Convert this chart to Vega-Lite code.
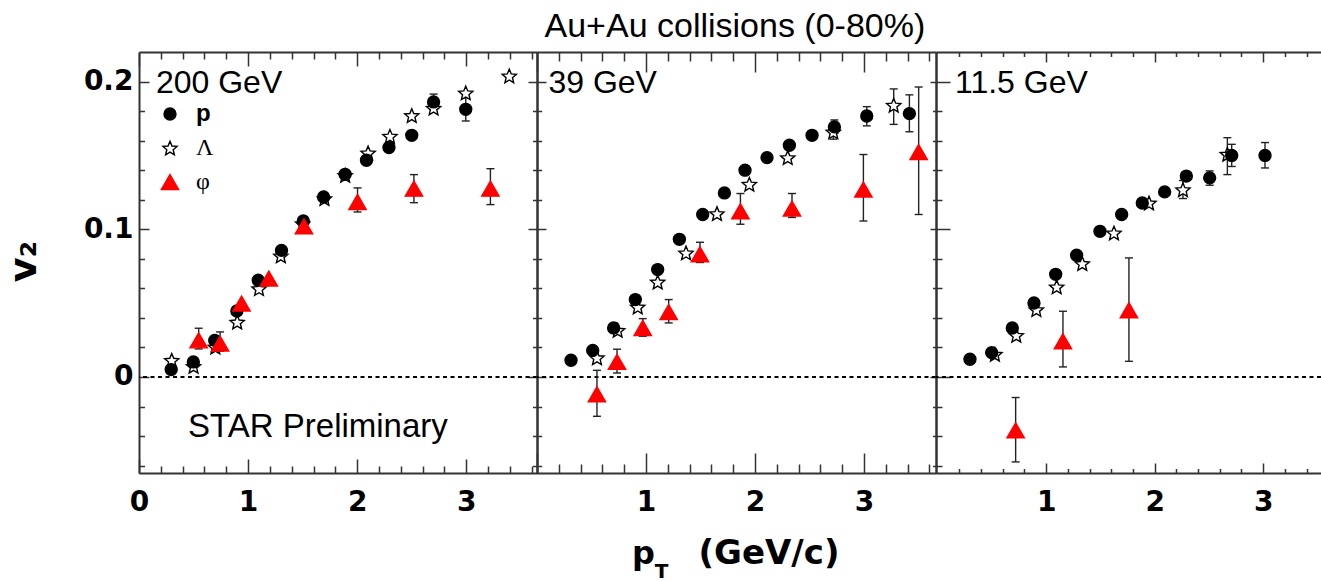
{
  "$schema": "https://vega.github.io/schema/vega-lite/v6.json",
  "background": "white",
  "padding": {"left": 5, "top": 9, "right": 0, "bottom": 0},
  "autosize": {"type": "pad"},
  "bounds": "flush",
  "spacing": 0,
  "config": {
    "view": {"stroke": null},
    "axis": {"domainColor": "#333333", "domainWidth": 2, "tickColor": "#333333", "tickWidth": 1.5, "grid": false, "labelColor": "#000000", "titleColor": "#000000", "labelFlush": false, "labelOverlap": false, "labelBound": false}
  },
  "datasets": {
    "labels": [
      {"energy": "200 GeV", "kind": "energy", "label": "200 GeV"},
      {"energy": "39 GeV", "kind": "energy", "label": "39 GeV"},
      {"energy": "11.5 GeV", "kind": "energy", "label": "11.5 GeV"},
      {"energy": "200 GeV", "kind": "note", "label": "STAR Preliminary"}
    ],
    "v2": [
      {"energy": "200 GeV", "particle": "Λ", "pt": 0.30, "v2": 0.0113},
      {"energy": "200 GeV", "particle": "Λ", "pt": 0.50, "v2": 0.0072},
      {"energy": "200 GeV", "particle": "Λ", "pt": 0.70, "v2": 0.0203},
      {"energy": "200 GeV", "particle": "Λ", "pt": 0.90, "v2": 0.0372},
      {"energy": "200 GeV", "particle": "Λ", "pt": 1.10, "v2": 0.0598},
      {"energy": "200 GeV", "particle": "Λ", "pt": 1.30, "v2": 0.082},
      {"energy": "200 GeV", "particle": "Λ", "pt": 1.50, "v2": 0.1038},
      {"energy": "200 GeV", "particle": "Λ", "pt": 1.70, "v2": 0.1208},
      {"energy": "200 GeV", "particle": "Λ", "pt": 1.89, "v2": 0.1365},
      {"energy": "200 GeV", "particle": "Λ", "pt": 2.10, "v2": 0.1517},
      {"energy": "200 GeV", "particle": "Λ", "pt": 2.30, "v2": 0.163},
      {"energy": "200 GeV", "particle": "Λ", "pt": 2.50, "v2": 0.177},
      {"energy": "200 GeV", "particle": "Λ", "pt": 2.70, "v2": 0.182},
      {"energy": "200 GeV", "particle": "Λ", "pt": 2.995, "v2": 0.1923},
      {"energy": "200 GeV", "particle": "Λ", "pt": 3.394, "v2": 0.2038},
      {"energy": "200 GeV", "particle": "p", "pt": 0.295, "v2": 0.005},
      {"energy": "200 GeV", "particle": "p", "pt": 0.498, "v2": 0.0102},
      {"energy": "200 GeV", "particle": "p", "pt": 0.694, "v2": 0.0248},
      {"energy": "200 GeV", "particle": "p", "pt": 0.897, "v2": 0.0447},
      {"energy": "200 GeV", "particle": "p", "pt": 1.093, "v2": 0.0655},
      {"energy": "200 GeV", "particle": "p", "pt": 1.306, "v2": 0.0857},
      {"energy": "200 GeV", "particle": "p", "pt": 1.506, "v2": 0.1056},
      {"energy": "200 GeV", "particle": "p", "pt": 1.692, "v2": 0.1219},
      {"energy": "200 GeV", "particle": "p", "pt": 1.889, "v2": 0.1372},
      {"energy": "200 GeV", "particle": "p", "pt": 2.085, "v2": 0.1467},
      {"energy": "200 GeV", "particle": "p", "pt": 2.291, "v2": 0.1553},
      {"energy": "200 GeV", "particle": "p", "pt": 2.50, "v2": 0.1636},
      {"energy": "200 GeV", "particle": "p", "pt": 2.70, "v2": 0.1862, "lo": 0.181, "hi": 0.1915},
      {"energy": "200 GeV", "particle": "p", "pt": 2.995, "v2": 0.1812, "lo": 0.1733, "hi": 0.189},
      {"energy": "200 GeV", "particle": "φ", "pt": 0.547, "v2": 0.0248, "lo": 0.019, "hi": 0.033},
      {"energy": "200 GeV", "particle": "φ", "pt": 0.743, "v2": 0.0226, "lo": 0.0175, "hi": 0.0305},
      {"energy": "200 GeV", "particle": "φ", "pt": 0.94, "v2": 0.0497},
      {"energy": "200 GeV", "particle": "φ", "pt": 1.19, "v2": 0.0666},
      {"energy": "200 GeV", "particle": "φ", "pt": 1.512, "v2": 0.102},
      {"energy": "200 GeV", "particle": "φ", "pt": 2.003, "v2": 0.1185, "lo": 0.1117, "hi": 0.128},
      {"energy": "200 GeV", "particle": "φ", "pt": 2.52, "v2": 0.1275, "lo": 0.118, "hi": 0.137},
      {"energy": "200 GeV", "particle": "φ", "pt": 3.221, "v2": 0.1275, "lo": 0.1167, "hi": 0.141},
      {"energy": "39 GeV", "particle": "Λ", "pt": 0.55, "v2": 0.013},
      {"energy": "39 GeV", "particle": "Λ", "pt": 0.74, "v2": 0.0316},
      {"energy": "39 GeV", "particle": "Λ", "pt": 0.924, "v2": 0.0474},
      {"energy": "39 GeV", "particle": "Λ", "pt": 1.107, "v2": 0.0643},
      {"energy": "39 GeV", "particle": "Λ", "pt": 1.367, "v2": 0.084},
      {"energy": "39 GeV", "particle": "Λ", "pt": 1.651, "v2": 0.1106},
      {"energy": "39 GeV", "particle": "Λ", "pt": 1.948, "v2": 0.1305},
      {"energy": "39 GeV", "particle": "Λ", "pt": 2.30, "v2": 0.1485},
      {"energy": "39 GeV", "particle": "Λ", "pt": 2.718, "v2": 0.1659, "lo": 0.161, "hi": 0.171},
      {"energy": "39 GeV", "particle": "Λ", "pt": 3.272, "v2": 0.184, "lo": 0.171, "hi": 0.195},
      {"energy": "39 GeV", "particle": "p", "pt": 0.312, "v2": 0.0113},
      {"energy": "39 GeV", "particle": "p", "pt": 0.511, "v2": 0.018},
      {"energy": "39 GeV", "particle": "p", "pt": 0.703, "v2": 0.0332},
      {"energy": "39 GeV", "particle": "p", "pt": 0.902, "v2": 0.0524},
      {"energy": "39 GeV", "particle": "p", "pt": 1.107, "v2": 0.0727},
      {"energy": "39 GeV", "particle": "p", "pt": 1.306, "v2": 0.0932},
      {"energy": "39 GeV", "particle": "p", "pt": 1.52, "v2": 0.110},
      {"energy": "39 GeV", "particle": "p", "pt": 1.719, "v2": 0.1246},
      {"energy": "39 GeV", "particle": "p", "pt": 1.908, "v2": 0.140},
      {"energy": "39 GeV", "particle": "p", "pt": 2.11, "v2": 0.1485},
      {"energy": "39 GeV", "particle": "p", "pt": 2.315, "v2": 0.1569},
      {"energy": "39 GeV", "particle": "p", "pt": 2.523, "v2": 0.1636},
      {"energy": "39 GeV", "particle": "p", "pt": 2.728, "v2": 0.1693, "lo": 0.165, "hi": 0.174},
      {"energy": "39 GeV", "particle": "p", "pt": 3.025, "v2": 0.1767, "lo": 0.170, "hi": 0.183},
      {"energy": "39 GeV", "particle": "p", "pt": 3.416, "v2": 0.1783, "lo": 0.166, "hi": 0.191},
      {"energy": "39 GeV", "particle": "φ", "pt": 0.55, "v2": -0.0117, "lo": -0.0266, "hi": 0.0045},
      {"energy": "39 GeV", "particle": "φ", "pt": 0.734, "v2": 0.0102, "lo": 0.0027, "hi": 0.0188},
      {"energy": "39 GeV", "particle": "φ", "pt": 0.97, "v2": 0.0332, "lo": 0.0276, "hi": 0.0395},
      {"energy": "39 GeV", "particle": "φ", "pt": 1.208, "v2": 0.044, "lo": 0.0366, "hi": 0.0524},
      {"energy": "39 GeV", "particle": "φ", "pt": 1.495, "v2": 0.0831, "lo": 0.0775, "hi": 0.0912},
      {"energy": "39 GeV", "particle": "φ", "pt": 1.866, "v2": 0.1122, "lo": 0.1034, "hi": 0.1242},
      {"energy": "39 GeV", "particle": "φ", "pt": 2.339, "v2": 0.114, "lo": 0.108, "hi": 0.1242},
      {"energy": "39 GeV", "particle": "φ", "pt": 2.994, "v2": 0.1269, "lo": 0.1056, "hi": 0.1506},
      {"energy": "39 GeV", "particle": "φ", "pt": 3.501, "v2": 0.1523, "lo": 0.110, "hi": 0.1963},
      {"energy": "11.5 GeV", "particle": "Λ", "pt": 0.528, "v2": 0.0154},
      {"energy": "11.5 GeV", "particle": "Λ", "pt": 0.725, "v2": 0.0282},
      {"energy": "11.5 GeV", "particle": "Λ", "pt": 0.91, "v2": 0.0456},
      {"energy": "11.5 GeV", "particle": "Λ", "pt": 1.097, "v2": 0.061},
      {"energy": "11.5 GeV", "particle": "Λ", "pt": 1.333, "v2": 0.0768},
      {"energy": "11.5 GeV", "particle": "Λ", "pt": 1.625, "v2": 0.0975},
      {"energy": "11.5 GeV", "particle": "Λ", "pt": 1.948, "v2": 0.1178},
      {"energy": "11.5 GeV", "particle": "Λ", "pt": 2.261, "v2": 0.1268, "lo": 0.1208, "hi": 0.133},
      {"energy": "11.5 GeV", "particle": "Λ", "pt": 2.67, "v2": 0.1508, "lo": 0.137, "hi": 0.162},
      {"energy": "11.5 GeV", "particle": "p", "pt": 0.298, "v2": 0.012},
      {"energy": "11.5 GeV", "particle": "p", "pt": 0.498, "v2": 0.0165},
      {"energy": "11.5 GeV", "particle": "p", "pt": 0.688, "v2": 0.0332},
      {"energy": "11.5 GeV", "particle": "p", "pt": 0.888, "v2": 0.0501},
      {"energy": "11.5 GeV", "particle": "p", "pt": 1.088, "v2": 0.0695},
      {"energy": "11.5 GeV", "particle": "p", "pt": 1.281, "v2": 0.0824},
      {"energy": "11.5 GeV", "particle": "p", "pt": 1.496, "v2": 0.0986},
      {"energy": "11.5 GeV", "particle": "p", "pt": 1.696, "v2": 0.110},
      {"energy": "11.5 GeV", "particle": "p", "pt": 1.886, "v2": 0.1178},
      {"energy": "11.5 GeV", "particle": "p", "pt": 2.092, "v2": 0.1253},
      {"energy": "11.5 GeV", "particle": "p", "pt": 2.292, "v2": 0.136},
      {"energy": "11.5 GeV", "particle": "p", "pt": 2.507, "v2": 0.1348, "lo": 0.1298, "hi": 0.1395},
      {"energy": "11.5 GeV", "particle": "p", "pt": 2.71, "v2": 0.150, "lo": 0.1425, "hi": 0.1575},
      {"energy": "11.5 GeV", "particle": "p", "pt": 3.017, "v2": 0.150, "lo": 0.1415, "hi": 0.1587},
      {"energy": "11.5 GeV", "particle": "φ", "pt": 0.719, "v2": -0.0361, "lo": -0.0575, "hi": -0.0139},
      {"energy": "11.5 GeV", "particle": "φ", "pt": 1.155, "v2": 0.0242, "lo": 0.0068, "hi": 0.0445},
      {"energy": "11.5 GeV", "particle": "φ", "pt": 1.763, "v2": 0.0452, "lo": 0.0106, "hi": 0.0806}
    ]
  },
  "resolve": {
    "scale": {"x": "independent", "y": "independent", "shape": "independent", "fill": "independent", "stroke": "independent", "size": "independent"},
    "legend": {"shape": "independent", "fill": "independent", "stroke": "independent", "size": "independent"}
  },
  "hconcat": [
    {
      "width": 398,
      "height": 421,
      "data": {"name": "v2"},
      "resolve": {"axis": {"x": "independent", "y": "independent"}},
      "layer": [
        {
          "data": {"name": "labels"},
          "transform": [{"filter": "datum.energy === '200 GeV' && datum.kind === 'energy'"}],
          "mark": {"type": "rule", "strokeDash": [4, 3.5], "strokeWidth": 2, "color": "#000000"},
          "encoding": {
            "y": {"datum": 0, "type": "quantitative", "scale": {"domain": [-0.065, 0.22], "nice": false, "zero": false},
              "axis": {"orient": "left", "values": [0, 0.1, 0.2], "format": "~g", "ticks": false, "domain": false, "labels": true,
                "labelFont": "DejaVu Sans", "labelFontWeight": "bold", "labelFontSize": 28, "labelPadding": 6, "labelBaseline": "middle",
                "title": "v₂", "titleFont": "DejaVu Sans", "titleFontWeight": "bold", "titleFontSize": 38, "titleAngle": 270,
                "titleAlign": "center", "titleBaseline": "alphabetic", "titleX": -103.6, "titleY": 209}}
          }
        },
        {
          "transform": [{"filter": "datum.energy === '200 GeV' && isValid(datum.lo)"}],
          "mark": {"type": "rule", "color": "#222222", "strokeWidth": 1.4},
          "encoding": {
            "x": {"field": "pt", "type": "quantitative", "scale": {"domain": [0, 3.648], "nice": false, "zero": false},
              "axis": {"orient": "bottom", "values": [0,0.2,0.4,0.6,0.8,1,1.2,1.4,1.6,1.8,2,2.2,2.4,2.6,2.8,3,3.2,3.4,3.6], "labels": false, "domain": true, "ticks": true,
                "tickSize": {"condition": {"test": "abs(datum.value-round(datum.value))<0.001", "value": -14}, "value": -7}, "title": null}},
            "y": {"field": "lo", "type": "quantitative", "scale": {"domain": [-0.065, 0.22], "nice": false, "zero": false},
              "axis": {"orient": "left", "values": [-0.06,-0.04,-0.02,0,0.02,0.04,0.06,0.08,0.1,0.12,0.14,0.16,0.18,0.2], "labels": false, "domain": true, "ticks": true,
                "tickSize": {"condition": {"test": "abs(datum.value*10-round(datum.value*10))<0.001", "value": -10}, "value": -5.5}, "title": null}},
            "y2": {"field": "hi"}
          }
        },
        {
          "transform": [{"filter": "datum.energy === '200 GeV' && isValid(datum.lo)"}],
          "mark": {"type": "tick", "orient": "horizontal", "size": 8, "thickness": 1.4, "color": "#222222", "opacity": 1},
          "encoding": {
            "x": {"field": "pt", "type": "quantitative", "scale": {"domain": [0, 3.648], "nice": false, "zero": false},
              "axis": {"orient": "top", "values": [0,0.2,0.4,0.6,0.8,1,1.2,1.4,1.6,1.8,2,2.2,2.4,2.6,2.8,3,3.2,3.4,3.6], "labels": false, "domain": true, "ticks": true,
                "tickSize": {"condition": {"test": "abs(datum.value-round(datum.value))<0.001", "value": -14}, "value": -7}, "title": null}},
            "y": {"field": "lo", "type": "quantitative", "scale": {"domain": [-0.065, 0.22], "nice": false, "zero": false},
              "axis": {"orient": "right", "values": [-0.06,-0.04,-0.02,0,0.02,0.04,0.06,0.08,0.1,0.12,0.14,0.16,0.18,0.2], "labels": false, "domain": true, "ticks": true,
                "tickSize": {"condition": {"test": "abs(datum.value*10-round(datum.value*10))<0.001", "value": -9}, "value": -4.5}, "title": null}}
          }
        },
        {
          "transform": [{"filter": "datum.energy === '200 GeV' && isValid(datum.hi)"}],
          "mark": {"type": "tick", "orient": "horizontal", "size": 8, "thickness": 1.4, "color": "#222222", "opacity": 1},
          "encoding": {
            "x": {"field": "pt", "type": "quantitative", "scale": {"domain": [0, 3.648], "nice": false, "zero": false}, "axis": null},
            "y": {"field": "hi", "type": "quantitative", "scale": {"domain": [-0.065, 0.22], "nice": false, "zero": false}, "axis": null}
          }
        },
        {
          "transform": [{"filter": "datum.energy === '200 GeV'"}],
          "mark": {"type": "point", "filled": true, "opacity": 1, "strokeWidth": 1.4},
          "encoding": {
            "x": {"field": "pt", "type": "quantitative", "scale": {"domain": [0, 3.648], "nice": false, "zero": false},
              "axis": {"orient": "bottom", "values": [0, 1, 2, 3], "format": "d", "ticks": false, "domain": false, "labels": true,
                "labelFont": "DejaVu Sans", "labelFontWeight": "bold", "labelFontSize": 28, "labelPadding": 15, "labelBaseline": "top", "title": null}},
            "y": {"field": "v2", "type": "quantitative", "scale": {"domain": [-0.065, 0.22], "nice": false, "zero": false}, "axis": null},
            "shape": {"field": "particle", "type": "nominal",
              "scale": {"domain": ["p", "Λ", "φ"], "range": ["circle", "M0,-0.905L0.2645,-0.269L0.951,-0.214L0.428,0.234L0.588,0.904L0,0.545L-0.588,0.904L-0.428,0.234L-0.951,-0.214L-0.2645,-0.269Z", "M0,-0.866L1,0.866L-1,0.866Z"]},
              "legend": {"orient": "none", "legendX": 19, "legendY": 50, "title": null, "direction": "vertical", "padding": 0, "rowPadding": 10, "labelOffset": 14, "labelFontSize": 24, "labelColor": "#000000", "symbolStrokeWidth": 1.4,
                "labelFont": {"expr": "datum.label === 'p' ? 'Liberation Sans' : 'Liberation Serif'"}, "labelFontWeight": {"expr": "datum.label === 'p' ? 'bold' : 'normal'"}}},
            "fill": {"field": "particle", "type": "nominal", "scale": {"domain": ["p", "Λ", "φ"], "range": ["#000000", "#ffffff", "#ff0000"]},
              "legend": {"orient": "none", "legendX": 19, "legendY": 50, "title": null, "direction": "vertical", "padding": 0, "rowPadding": 10, "labelOffset": 14, "labelFontSize": 24, "labelColor": "#000000", "symbolStrokeWidth": 1.4,
                "labelFont": {"expr": "datum.label === 'p' ? 'Liberation Sans' : 'Liberation Serif'"}, "labelFontWeight": {"expr": "datum.label === 'p' ? 'bold' : 'normal'"}}},
            "stroke": {"field": "particle", "type": "nominal", "scale": {"domain": ["p", "Λ", "φ"], "range": ["#000000", "#000000", "#ff0000"]},
              "legend": {"orient": "none", "legendX": 19, "legendY": 50, "title": null, "direction": "vertical", "padding": 0, "rowPadding": 10, "labelOffset": 14, "labelFontSize": 24, "labelColor": "#000000", "symbolStrokeWidth": 1.4,
                "labelFont": {"expr": "datum.label === 'p' ? 'Liberation Sans' : 'Liberation Serif'"}, "labelFontWeight": {"expr": "datum.label === 'p' ? 'bold' : 'normal'"}}},
            "size": {"field": "particle", "type": "nominal", "scale": {"domain": ["p", "Λ", "φ"], "range": [143, 300, 340]},
              "legend": {"orient": "none", "legendX": 19, "legendY": 50, "title": null, "direction": "vertical", "padding": 0, "rowPadding": 10, "labelOffset": 14, "labelFontSize": 24, "labelColor": "#000000", "symbolStrokeWidth": 1.4,
                "labelFont": {"expr": "datum.label === 'p' ? 'Liberation Sans' : 'Liberation Serif'"}, "labelFontWeight": {"expr": "datum.label === 'p' ? 'bold' : 'normal'"}}}
          }
        },
        {
          "data": {"name": "labels"},
          "transform": [{"filter": "datum.energy === '200 GeV' && datum.kind === 'energy'"}],
          "mark": {"type": "text", "align": "left", "baseline": "alphabetic", "font": "Liberation Sans", "fontSize": 32, "color": "#000000"},
          "encoding": {
            "text": {"field": "label"},
            "x": {"datum": 0.155, "type": "quantitative", "scale": {"domain": [0, 3.648], "nice": false, "zero": false}, "axis": null},
            "y": {"datum": 0.192, "type": "quantitative", "scale": {"domain": [-0.065, 0.22], "nice": false, "zero": false}, "axis": null}
          }
        },
        {
          "data": {"name": "labels"},
          "transform": [{"filter": "datum.kind === 'note'"}],
          "mark": {"type": "text", "align": "center", "baseline": "alphabetic", "font": "Liberation Sans", "fontSize": 33, "color": "#000000"},
          "encoding": {
            "text": {"field": "label"},
            "x": {"datum": 1.64, "type": "quantitative", "scale": {"domain": [0, 3.648], "nice": false, "zero": false}, "axis": null},
            "y": {"datum": -0.0406, "type": "quantitative", "scale": {"domain": [-0.065, 0.22], "nice": false, "zero": false}, "axis": null}
          }
        }
      ]
    },
    {
      "width": 399,
      "height": 421,
      "data": {"name": "v2"},
      "resolve": {"axis": {"x": "independent", "y": "independent"}},
      "layer": [
        {
          "data": {"name": "labels"},
          "transform": [{"filter": "datum.energy === '39 GeV' && datum.kind === 'energy'"}],
          "mark": {"type": "rule", "strokeDash": [4, 3.5], "strokeWidth": 2, "color": "#000000"},
          "encoding": {
            "y": {"datum": 0, "type": "quantitative", "scale": {"domain": [-0.065, 0.22], "nice": false, "zero": false}, "axis": null}
          }
        },
        {
          "transform": [{"filter": "datum.energy === '39 GeV' && isValid(datum.lo)"}],
          "mark": {"type": "rule", "color": "#222222", "strokeWidth": 1.4},
          "encoding": {
            "x": {"field": "pt", "type": "quantitative", "scale": {"domain": [0, 3.66], "nice": false, "zero": false},
              "axis": {"orient": "bottom", "values": [0,0.2,0.4,0.6,0.8,1,1.2,1.4,1.6,1.8,2,2.2,2.4,2.6,2.8,3,3.2,3.4,3.6], "labels": false, "domain": true, "ticks": true,
                "tickSize": {"condition": {"test": "abs(datum.value-round(datum.value))<0.001", "value": -20}, "value": -9},
                "title": "(GeV/c)", "titleFont": "DejaVu Sans", "titleFontWeight": "bold", "titleFontSize": 34, "titleAlign": "left", "titleBaseline": "alphabetic", "titleAngle": 0, "titleX": 161, "titleY": 90.3}},
            "y": {"field": "lo", "type": "quantitative", "scale": {"domain": [-0.065, 0.22], "nice": false, "zero": false},
              "axis": {"orient": "left", "values": [-0.06,-0.04,-0.02,0,0.02,0.04,0.06,0.08,0.1,0.12,0.14,0.16,0.18,0.2], "labels": false, "domain": true, "ticks": true,
                "tickSize": {"condition": {"test": "abs(datum.value*10-round(datum.value*10))<0.001", "value": -9}, "value": -4.7},
                "title": "Au+Au collisions (0-80%)", "titleFont": "Liberation Sans", "titleFontWeight": "normal", "titleFontSize": 34, "titleAngle": 0, "titleAlign": "center", "titleBaseline": "alphabetic", "titleX": 197.4, "titleY": -15.7}},
            "y2": {"field": "hi"}
          }
        },
        {
          "transform": [{"filter": "datum.energy === '39 GeV' && isValid(datum.lo)"}],
          "mark": {"type": "tick", "orient": "horizontal", "size": 8, "thickness": 1.4, "color": "#222222", "opacity": 1},
          "encoding": {
            "x": {"field": "pt", "type": "quantitative", "scale": {"domain": [0, 3.66], "nice": false, "zero": false},
              "axis": {"orient": "top", "values": [0,0.2,0.4,0.6,0.8,1,1.2,1.4,1.6,1.8,2,2.2,2.4,2.6,2.8,3,3.2,3.4,3.6], "labels": false, "domain": true, "ticks": true,
                "tickSize": {"condition": {"test": "abs(datum.value-round(datum.value))<0.001", "value": -20}, "value": -9},
                "title": "T", "titleFont": "DejaVu Sans", "titleFontWeight": "bold", "titleFontSize": 20, "titleAlign": "center", "titleBaseline": "alphabetic", "titleAngle": 0, "titleX": 124, "titleY": 525.3}},
            "y": {"field": "lo", "type": "quantitative", "scale": {"domain": [-0.065, 0.22], "nice": false, "zero": false},
              "axis": {"orient": "right", "values": [-0.06,-0.04,-0.02,0,0.02,0.04,0.06,0.08,0.1,0.12,0.14,0.16,0.18,0.2], "labels": false, "domain": true, "ticks": true,
                "tickSize": {"condition": {"test": "abs(datum.value*10-round(datum.value*10))<0.001", "value": -6}, "value": -3.5}, "title": null}}
          }
        },
        {
          "transform": [{"filter": "datum.energy === '39 GeV' && isValid(datum.hi)"}],
          "mark": {"type": "tick", "orient": "horizontal", "size": 8, "thickness": 1.4, "color": "#222222", "opacity": 1},
          "encoding": {
            "x": {"field": "pt", "type": "quantitative", "scale": {"domain": [0, 3.66], "nice": false, "zero": false}, "axis": null},
            "y": {"field": "hi", "type": "quantitative", "scale": {"domain": [-0.065, 0.22], "nice": false, "zero": false}, "axis": null}
          }
        },
        {
          "transform": [{"filter": "datum.energy === '39 GeV'"}],
          "mark": {"type": "point", "filled": true, "opacity": 1, "strokeWidth": 1.4},
          "encoding": {
            "x": {"field": "pt", "type": "quantitative", "scale": {"domain": [0, 3.66], "nice": false, "zero": false},
              "axis": {"orient": "bottom", "values": [1, 2, 3], "format": "d", "ticks": false, "domain": false, "labels": true,
                "labelFont": "DejaVu Sans", "labelFontWeight": "bold", "labelFontSize": 28, "labelPadding": 15, "labelBaseline": "top",
                "title": "p", "titleFont": "DejaVu Sans", "titleFontWeight": "bold", "titleFontSize": 32, "titleAlign": "left", "titleBaseline": "alphabetic", "titleAngle": 0, "titleX": 94.5, "titleY": 90.3}},
            "y": {"field": "v2", "type": "quantitative", "scale": {"domain": [-0.065, 0.22], "nice": false, "zero": false}, "axis": null},
            "shape": {"field": "particle", "type": "nominal",
              "scale": {"domain": ["p", "Λ", "φ"], "range": ["circle", "M0,-0.905L0.2645,-0.269L0.951,-0.214L0.428,0.234L0.588,0.904L0,0.545L-0.588,0.904L-0.428,0.234L-0.951,-0.214L-0.2645,-0.269Z", "M0,-0.866L1,0.866L-1,0.866Z"]}, "legend": null},
            "fill": {"field": "particle", "type": "nominal", "scale": {"domain": ["p", "Λ", "φ"], "range": ["#000000", "#ffffff", "#ff0000"]}, "legend": null},
            "stroke": {"field": "particle", "type": "nominal", "scale": {"domain": ["p", "Λ", "φ"], "range": ["#000000", "#000000", "#ff0000"]}, "legend": null},
            "size": {"field": "particle", "type": "nominal", "scale": {"domain": ["p", "Λ", "φ"], "range": [143, 300, 340]}, "legend": null}
          }
        },
        {
          "data": {"name": "labels"},
          "transform": [{"filter": "datum.energy === '39 GeV' && datum.kind === 'energy'"}],
          "mark": {"type": "text", "align": "left", "baseline": "alphabetic", "font": "Liberation Sans", "fontSize": 32, "color": "#000000"},
          "encoding": {
            "text": {"field": "label"},
            "x": {"datum": 0.105, "type": "quantitative", "scale": {"domain": [0, 3.66], "nice": false, "zero": false}, "axis": null},
            "y": {"datum": 0.192, "type": "quantitative", "scale": {"domain": [-0.065, 0.22], "nice": false, "zero": false}, "axis": null}
          }
        }
      ]
    },
    {
      "width": 385,
      "height": 421,
      "data": {"name": "v2"},
      "resolve": {"axis": {"x": "independent", "y": "independent"}},
      "layer": [
        {
          "data": {"name": "labels"},
          "transform": [{"filter": "datum.energy === '11.5 GeV' && datum.kind === 'energy'"}],
          "mark": {"type": "rule", "strokeDash": [4, 3.5], "strokeWidth": 2, "color": "#000000"},
          "encoding": {
            "y": {"datum": 0, "type": "quantitative", "scale": {"domain": [-0.065, 0.22], "nice": false, "zero": false}, "axis": null}
          }
        },
        {
          "transform": [{"filter": "datum.energy === '11.5 GeV' && isValid(datum.lo)"}],
          "mark": {"type": "rule", "color": "#222222", "strokeWidth": 1.4},
          "encoding": {
            "x": {"field": "pt", "type": "quantitative", "scale": {"domain": [-0.015, 3.533], "nice": false, "zero": false},
              "axis": {"orient": "bottom", "values": [0.2,0.4,0.6,0.8,1,1.2,1.4,1.6,1.8,2,2.2,2.4,2.6,2.8,3,3.2,3.4], "labels": false, "domain": true, "ticks": true,
                "tickSize": {"condition": {"test": "abs(datum.value-round(datum.value))<0.001", "value": -10}, "value": -4.5}, "title": null}},
            "y": {"field": "lo", "type": "quantitative", "scale": {"domain": [-0.065, 0.22], "nice": false, "zero": false},
              "axis": {"orient": "left", "values": [-0.06,-0.04,-0.02,0,0.02,0.04,0.06,0.08,0.1,0.12,0.14,0.16,0.18,0.2], "labels": false, "domain": true, "ticks": true,
                "tickSize": {"condition": {"test": "abs(datum.value*10-round(datum.value*10))<0.001", "value": -14}, "value": -6}, "title": null}},
            "y2": {"field": "hi"}
          }
        },
        {
          "transform": [{"filter": "datum.energy === '11.5 GeV' && isValid(datum.lo)"}],
          "mark": {"type": "tick", "orient": "horizontal", "size": 8, "thickness": 1.4, "color": "#222222", "opacity": 1},
          "encoding": {
            "x": {"field": "pt", "type": "quantitative", "scale": {"domain": [-0.015, 3.533], "nice": false, "zero": false},
              "axis": {"orient": "top", "values": [0.2,0.4,0.6,0.8,1,1.2,1.4,1.6,1.8,2,2.2,2.4,2.6,2.8,3,3.2,3.4], "labels": false, "domain": true, "ticks": true,
                "tickSize": {"condition": {"test": "abs(datum.value-round(datum.value))<0.001", "value": -10}, "value": -4.5}, "title": null}},
            "y": {"field": "lo", "type": "quantitative", "scale": {"domain": [-0.065, 0.22], "nice": false, "zero": false}, "axis": null}
          }
        },
        {
          "transform": [{"filter": "datum.energy === '11.5 GeV' && isValid(datum.hi)"}],
          "mark": {"type": "tick", "orient": "horizontal", "size": 8, "thickness": 1.4, "color": "#222222", "opacity": 1},
          "encoding": {
            "x": {"field": "pt", "type": "quantitative", "scale": {"domain": [-0.015, 3.533], "nice": false, "zero": false}, "axis": null},
            "y": {"field": "hi", "type": "quantitative", "scale": {"domain": [-0.065, 0.22], "nice": false, "zero": false}, "axis": null}
          }
        },
        {
          "transform": [{"filter": "datum.energy === '11.5 GeV'"}],
          "mark": {"type": "point", "filled": true, "opacity": 1, "strokeWidth": 1.4},
          "encoding": {
            "x": {"field": "pt", "type": "quantitative", "scale": {"domain": [-0.015, 3.533], "nice": false, "zero": false},
              "axis": {"orient": "bottom", "values": [1, 2, 3], "format": "d", "ticks": false, "domain": false, "labels": true,
                "labelFont": "DejaVu Sans", "labelFontWeight": "bold", "labelFontSize": 28, "labelPadding": 15, "labelBaseline": "top", "title": null}},
            "y": {"field": "v2", "type": "quantitative", "scale": {"domain": [-0.065, 0.22], "nice": false, "zero": false}, "axis": null},
            "shape": {"field": "particle", "type": "nominal",
              "scale": {"domain": ["p", "Λ", "φ"], "range": ["circle", "M0,-0.905L0.2645,-0.269L0.951,-0.214L0.428,0.234L0.588,0.904L0,0.545L-0.588,0.904L-0.428,0.234L-0.951,-0.214L-0.2645,-0.269Z", "M0,-0.866L1,0.866L-1,0.866Z"]}, "legend": null},
            "fill": {"field": "particle", "type": "nominal", "scale": {"domain": ["p", "Λ", "φ"], "range": ["#000000", "#ffffff", "#ff0000"]}, "legend": null},
            "stroke": {"field": "particle", "type": "nominal", "scale": {"domain": ["p", "Λ", "φ"], "range": ["#000000", "#000000", "#ff0000"]}, "legend": null},
            "size": {"field": "particle", "type": "nominal", "scale": {"domain": ["p", "Λ", "φ"], "range": [143, 300, 340]}, "legend": null}
          }
        },
        {
          "data": {"name": "labels"},
          "transform": [{"filter": "datum.energy === '11.5 GeV' && datum.kind === 'energy'"}],
          "mark": {"type": "text", "align": "left", "baseline": "alphabetic", "font": "Liberation Sans", "fontSize": 32, "color": "#000000"},
          "encoding": {
            "text": {"field": "label"},
            "x": {"datum": 0.16, "type": "quantitative", "scale": {"domain": [-0.015, 3.533], "nice": false, "zero": false}, "axis": null},
            "y": {"datum": 0.192, "type": "quantitative", "scale": {"domain": [-0.065, 0.22], "nice": false, "zero": false}, "axis": null}
          }
        }
      ]
    }
  ]
}
